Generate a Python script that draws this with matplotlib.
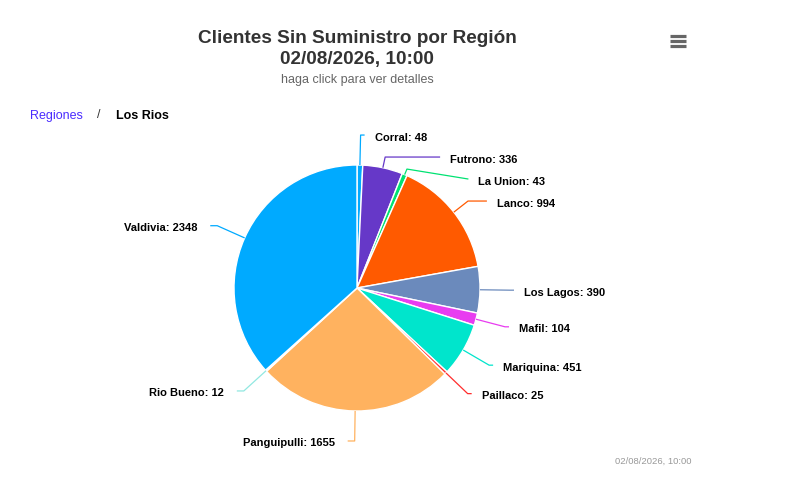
import numpy as np
import matplotlib.pyplot as plt

plt.rcParams['font.family'] = ['Liberation Sans', 'DejaVu Sans']

# datos por comuna (orden de la torta, desde arriba en sentido horario)
comunas = ['Corral', 'Futrono', 'La Union', 'Lanco', 'Los Lagos', 'Mafil',
           'Mariquina', 'Paillaco', 'Panguipulli', 'Rio Bueno', 'Valdivia']
clientes = [48, 336, 43, 994, 390, 104, 451, 25, 1655, 12, 2348]

colores = ['#00aaff', '#6638c8', '#00e272', '#ff5a00', '#6b8abc', '#e83cf0',
           '#00e5cc', '#ff2d2d', '#ffb25f', '#91e8e1', '#00aaff']

titulo = 'Clientes Sin Suministro por Región'
fecha = '02/08/2026, 10:00'
subtitulo = 'haga click para ver detalles'

W, H = 798, 489
fig = plt.figure(figsize=(W / 100, H / 100), dpi=100)
ax = fig.add_axes([0, 0, 1, 1])

cx, cy, r = 357, H - 289, 123
R = r + 30  # distancia de las etiquetas

ax.pie(clientes, colors=colores, startangle=90, counterclock=False,
       center=(cx, cy), radius=r, frame=True,
       wedgeprops=dict(edgecolor='white', linewidth=1))
ax.set_xlim(0, W)
ax.set_ylim(0, H)
ax.set_aspect('equal')
ax.axis('off')

# angulos medios (desde arriba, sentido horario)
total = float(sum(clientes))
acum = np.cumsum([0] + clientes[:-1])
theta = np.radians((acum + np.array(clientes) / 2) / total * 360)

# posicion natural de las etiquetas y separacion minima
y_nat = cy + R * np.cos(theta)
derecha = np.sin(theta) > 0
y_lbl = y_nat.copy()
for lado in [True, False]:
    idx = [i for i in range(len(clientes)) if derecha[i] == lado]
    idx.sort(key=lambda i: -y_nat[i])
    prev = None
    for i in idx:
        if prev is not None and y_lbl[i] > prev - 22:
            y_lbl[i] = prev - 22
        prev = y_lbl[i]

for i, (nom, val) in enumerate(zip(comunas, clientes)):
    t = theta[i]
    y = y_lbl[i]
    hx = np.sqrt(max(R ** 2 - (y - cy) ** 2, 0))
    if derecha[i]:
        tx = cx + hx + 14
        fin = tx - 10
        ha = 'left'
    else:
        tx = cx - hx - 20
        fin = tx + 13
        ha = 'right'
    c = np.cos(t)
    rb = (y - cy) / c if abs(c) > 1e-3 else R
    rb = min(max(rb, r + 6), R + 2)
    xs = [cx + r * np.sin(t), cx + rb * np.sin(t), fin]
    ys = [cy + r * np.cos(t), cy + rb * np.cos(t), y]
    ax.plot(xs, ys, color=colores[i], lw=0.9, solid_capstyle='butt')
    ax.text(tx, y - 1.5, f'{nom}: {val}', ha=ha, va='center', fontsize=8,
            fontweight='bold', color='black')

# titulos
ax.text(357, H - 39, titulo, ha='center', va='center', fontsize=13.7,
        fontweight='bold', color='#333333')
ax.text(357, H - 60, fecha, ha='center', va='center', fontsize=13.7,
        fontweight='bold', color='#333333')
ax.text(357, H - 80.5, subtitulo, ha='center', va='center', fontsize=9,
        color='#666666')

# breadcrumb
ax.text(30, H - 116.5, 'Regiones', ha='left', va='center', fontsize=9,
        color='#4a2cff')
ax.text(97, H - 115.5, '/', ha='left', va='center', fontsize=9,
        color='#333333')
ax.text(116, H - 116.5, 'Los Rios', ha='left', va='center', fontsize=9,
        fontweight='bold', color='black')

# menu
for yy in [37.3, 42, 47.3]:
    ax.plot([670, 686], [H - yy, H - yy], color='#666666', lw=2.3,
            solid_capstyle='butt')

ax.text(692, H - 461, fecha, ha='right', va='center', fontsize=6.8,
        color='#999999')

plt.savefig('out.png', dpi=100)
